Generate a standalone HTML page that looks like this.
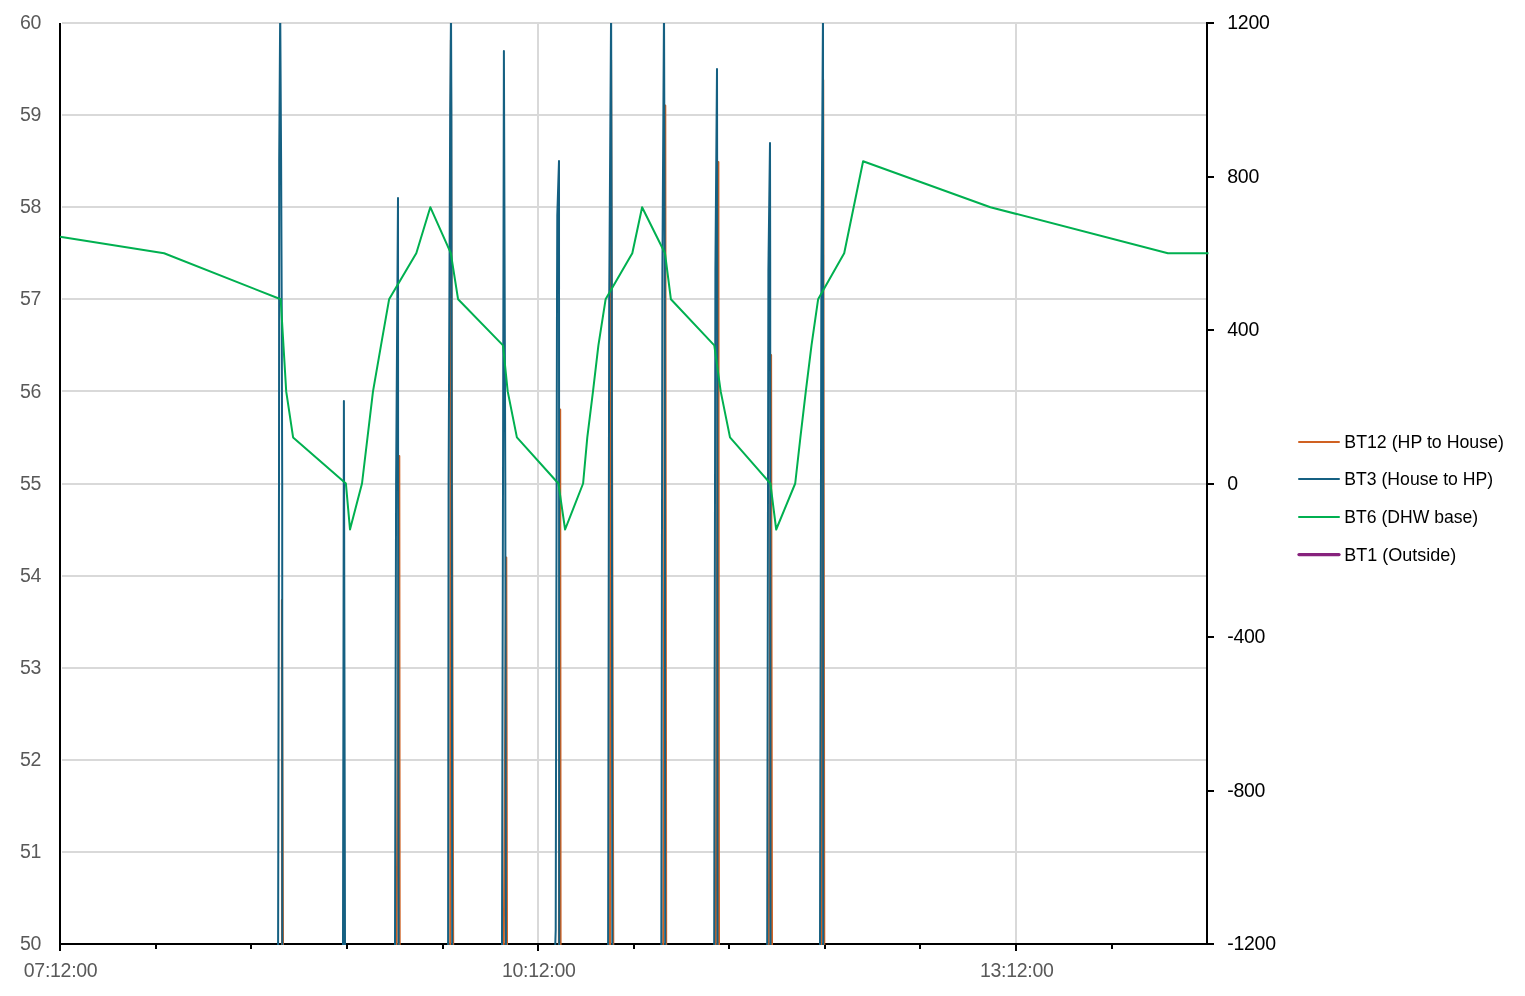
<!DOCTYPE html>
<html lang="en"><head><meta charset="utf-8"><title>Chart</title>
<style>html,body{margin:0;padding:0;background:#fff;}body{width:1525px;height:996px;overflow:hidden;}svg{display:block;}text{font-family:"Liberation Sans",sans-serif;}.ax{font-size:19.5px;fill:#595959;letter-spacing:-0.3px;}.rx{font-size:19.5px;fill:#000;letter-spacing:-0.3px;}.lg{font-size:18.6px;fill:#000;}</style></head><body>
<svg width="1525" height="996" viewBox="0 0 1525 996">
<rect x="0" y="0" width="1525" height="996" fill="#fff"/>
<defs><clipPath id="plot"><rect x="59" y="23" width="1150" height="922"/></clipPath></defs>
<g fill="#D9D9D9" shape-rendering="crispEdges">
<rect x="62" y="22" width="1144" height="2"/>
<rect x="62" y="114" width="1144" height="2"/>
<rect x="62" y="206" width="1144" height="2"/>
<rect x="62" y="298" width="1144" height="2"/>
<rect x="62" y="390" width="1144" height="2"/>
<rect x="62" y="483" width="1144" height="2"/>
<rect x="62" y="575" width="1144" height="2"/>
<rect x="62" y="667" width="1144" height="2"/>
<rect x="62" y="759" width="1144" height="2"/>
<rect x="62" y="851" width="1144" height="2"/>
<rect x="537" y="22" width="2" height="921"/>
<rect x="1015" y="22" width="2" height="921"/>
</g>
<g fill="#000" shape-rendering="crispEdges">
<rect x="59" y="23" width="2" height="928"/>
<rect x="59" y="943" width="1155" height="2"/>
<rect x="1206" y="22" width="2" height="923"/>
<rect x="155" y="945" width="2" height="4"/>
<rect x="250" y="945" width="2" height="4"/>
<rect x="346" y="945" width="2" height="4"/>
<rect x="442" y="945" width="2" height="4"/>
<rect x="633" y="945" width="2" height="4"/>
<rect x="728" y="945" width="2" height="4"/>
<rect x="824" y="945" width="2" height="4"/>
<rect x="919" y="945" width="2" height="4"/>
<rect x="1111" y="945" width="2" height="4"/>
<rect x="537" y="945" width="2" height="6"/>
<rect x="1015" y="945" width="2" height="6"/>
<rect x="1208" y="22" width="6" height="2"/>
<rect x="1208" y="176" width="6" height="2"/>
<rect x="1208" y="329" width="6" height="2"/>
<rect x="1208" y="483" width="6" height="2"/>
<rect x="1208" y="636" width="6" height="2"/>
<rect x="1208" y="790" width="6" height="2"/>
</g>
<g clip-path="url(#plot)" fill="none" stroke-linejoin="round">
<g stroke="#D06122" stroke-width="2">
<polyline points="282.0,960.0 282.0,944.0 281.9,600.0 283.0,944.0 283.1,960.0"/>
<polyline points="396.5,960.0 396.6,944.0 399.3,456.0 399.7,944.0 399.7,960.0"/>
<polyline points="450.2,960.0 450.2,944.0 450.9,40.0 453.2,944.0 453.2,960.0"/>
<polyline points="503.7,960.0 503.8,944.0 506.3,557.5 507.0,944.0 507.0,960.0"/>
<polyline points="558.9,960.0 558.9,944.0 560.2,409.5 560.6,944.0 560.6,960.0"/>
<polyline points="610.0,960.0 610.0,944.0 611.1,60.0 613.3,944.0 613.3,960.0"/>
<polyline points="663.2,960.0 663.2,944.0 665.3,105.5 666.2,944.0 666.2,960.0"/>
<polyline points="715.7,960.0 715.8,944.0 718.4,162.0 719.0,944.0 719.0,960.0"/>
<polyline points="768.7,960.0 768.8,944.0 771.1,355.0 772.0,944.0 772.0,960.0"/>
<polyline points="821.5,960.0 821.5,944.0 823.2,80.0 824.3,944.0 824.3,960.0"/>
</g>
<g stroke="#156082" stroke-width="2">
<polyline points="278.1,960.0 278.1,944.0 279.0,484.0 279.2,160.0 280.2,10.0 281.1,160.0 281.7,300.0 282.2,484.0 282.3,944.0 282.3,960.0"/>
<polyline points="343.0,960.0 343.0,944.0 343.9,401.0 345.0,944.0 345.0,960.0"/>
<polyline points="395.0,960.0 395.0,944.0 396.1,484.0 398.0,198.0 398.1,484.0 398.6,944.0 398.6,960.0"/>
<polyline points="448.1,960.0 448.1,944.0 448.6,484.0 450.2,110.0 451.0,12.0 451.4,110.0 451.8,484.0 452.2,944.0 452.2,960.0"/>
<polyline points="502.0,960.0 502.0,944.0 503.0,484.0 503.9,51.0 505.3,484.0 505.9,944.0 505.9,960.0"/>
<polyline points="554.8,960.0 555.3,944.0 555.7,930.0 557.0,300.0 557.3,215.0 559.0,161.0 559.2,944.0 559.2,960.0"/>
<polyline points="608.1,960.0 608.1,944.0 609.2,300.0 611.1,10.0 611.8,300.0 612.3,944.0 612.3,960.0"/>
<polyline points="661.3,960.0 661.3,944.0 662.4,270.0 664.0,10.0 664.8,270.0 665.2,944.0 665.2,960.0"/>
<polyline points="714.2,960.0 714.2,944.0 715.4,270.0 717.0,69.0 717.3,270.0 717.5,944.0 717.5,960.0"/>
<polyline points="767.2,960.0 767.2,944.0 768.4,270.0 770.0,143.0 770.2,270.0 770.5,944.0 770.5,960.0"/>
<polyline points="820.0,960.0 820.0,944.0 821.4,270.0 823.0,10.0 823.1,270.0 823.2,944.0 823.2,960.0"/>
</g>
<polyline stroke="#00B050" stroke-width="2" points="60.0,236.7 164.1,253.2 280.7,299.3 286.2,391.4 293.1,437.4 345.9,483.5 350.0,529.5 362.0,483.5 373.0,391.4 381.0,345.4 389.1,299.3 416.3,253.2 430.3,207.2 450.8,253.2 458.1,299.3 503.0,345.4 507.7,391.4 516.9,437.4 558.4,483.5 565.1,529.5 583.1,483.5 587.3,437.4 593.0,391.4 598.4,345.4 605.6,299.3 632.3,253.2 642.1,207.2 665.0,253.2 670.9,299.3 714.3,345.4 720.7,391.4 730.0,437.4 770.4,483.5 776.2,529.5 795.2,483.5 800.4,437.4 805.8,391.4 811.5,345.4 818.1,299.3 844.2,253.2 863.1,161.2 990.4,207.2 1167.9,253.2 1208.5,253.2"/>
</g>
<g class="ax" text-anchor="end">
<text x="41.1" y="29.1">60</text>
<text x="41.1" y="121.2">59</text>
<text x="41.1" y="213.3">58</text>
<text x="41.1" y="305.4">57</text>
<text x="41.1" y="397.5">56</text>
<text x="41.1" y="489.6">55</text>
<text x="41.1" y="581.7">54</text>
<text x="41.1" y="673.8">53</text>
<text x="41.1" y="765.9">52</text>
<text x="41.1" y="858.0">51</text>
<text x="41.1" y="950.1">50</text>
</g>
<g class="ax" text-anchor="middle">
<text x="60.6" y="976.9">07:12:00</text>
<text x="538.8" y="976.9">10:12:00</text>
<text x="1016.8" y="976.9">13:12:00</text>
</g>
<g class="rx">
<text x="1227.3" y="29.3">1200</text>
<text x="1227.3" y="182.8">800</text>
<text x="1227.3" y="336.3">400</text>
<text x="1227.3" y="489.8">0</text>
<text x="1227.3" y="643.3">-400</text>
<text x="1227.3" y="796.8">-800</text>
<text x="1227.3" y="950.3">-1200</text>
</g>
<line x1="1299" y1="442" x2="1339" y2="442" stroke="#D06122" stroke-width="2" stroke-linecap="round"/>
<text class="lg" x="1344.3" y="448.3" textLength="159.6" lengthAdjust="spacingAndGlyphs">BT12 (HP to House)</text>
<line x1="1299" y1="479" x2="1339" y2="479" stroke="#156082" stroke-width="2" stroke-linecap="round"/>
<text class="lg" x="1344.3" y="485.3" textLength="148.8" lengthAdjust="spacingAndGlyphs">BT3 (House to HP)</text>
<line x1="1299" y1="517" x2="1339" y2="517" stroke="#00B050" stroke-width="2" stroke-linecap="round"/>
<text class="lg" x="1344.3" y="523.3" textLength="133.8" lengthAdjust="spacingAndGlyphs">BT6 (DHW base)</text>
<line x1="1299" y1="554.6" x2="1339" y2="554.6" stroke="#87227D" stroke-width="3.3" stroke-linecap="round"/>
<text class="lg" x="1344.3" y="560.9" textLength="111.9" lengthAdjust="spacingAndGlyphs">BT1 (Outside)</text>
</svg></body></html>
